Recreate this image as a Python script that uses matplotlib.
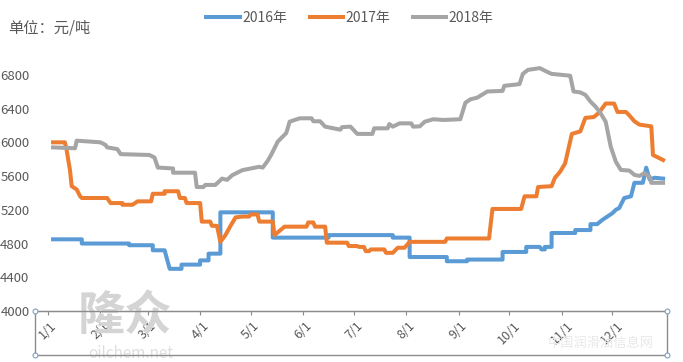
import matplotlib
matplotlib.use("Agg")
from matplotlib import pyplot as plt
from matplotlib.patches import Rectangle
from matplotlib.lines import Line2D

plt.rcParams['font.family'] = ['Noto Sans CJK SC', 'DejaVu Sans']

# day of year (0 = 1/1) and price, yuan/ton
d2016 = [3, 20, 20, 48, 48, 62, 62, 69, 72, 79, 79, 90, 90, 95, 95, 102, 102, 133, 133, 166, 166,
         204, 204, 214, 214, 236, 236, 248, 248, 269, 269, 283, 283, 291, 292, 294, 294, 298, 298,
         312, 312, 321, 321, 325, 328, 331, 334, 336, 338, 341, 345, 347, 352, 354, 356, 359, 364]
v2016 = [4850, 4850, 4800, 4800, 4780, 4780, 4720, 4720, 4500, 4500, 4550, 4550, 4600, 4600, 4680,
         4680, 5170, 5170, 4870, 4870, 4900, 4900, 4870, 4870, 4640, 4640, 4590, 4590, 4610, 4610,
         4700, 4700, 4760, 4760, 4730, 4730, 4760, 4760, 4925, 4925, 4960, 4960, 5030, 5030, 5080,
         5120, 5160, 5200, 5220, 5340, 5360, 5520, 5520, 5700, 5560, 5580, 5570]

d2017 = [3, 10, 11, 13, 14, 17, 19, 20, 35, 37, 44, 44, 50, 53, 61, 62, 69, 69, 77, 78, 81, 82, 90,
         91, 96, 97, 100, 102, 105, 108, 111, 115, 119, 120, 124, 125, 133, 134, 137, 140, 153, 154,
         157, 158, 164, 165, 177, 178, 183, 184, 187, 188, 190, 191, 199, 200, 204, 207, 211, 214,
         235, 236, 261, 263, 280, 282, 289, 290, 298, 300, 303, 306, 310, 315, 318, 323, 326, 330,
         335, 337, 342, 344, 347, 350, 357, 358, 362, 364]
v2017 = [6000, 6000, 5910, 5670, 5480, 5440, 5360, 5340, 5340, 5280, 5280, 5260, 5260, 5300, 5300,
         5390, 5390, 5420, 5420, 5340, 5340, 5280, 5280, 5060, 5060, 5010, 5010, 4820, 4900, 5010,
         5110, 5120, 5120, 5145, 5145, 5060, 5060, 4900, 4950, 5000, 5000, 5050, 5050, 5000, 5000,
         4810, 4810, 4770, 4770, 4760, 4760, 4710, 4710, 4730, 4730, 4690, 4690, 4750, 4750, 4820,
         4820, 4860, 4860, 5210, 5210, 5360, 5360, 5470, 5480, 5580, 5650, 5750, 6100, 6130, 6290,
         6300, 6350, 6460, 6460, 6360, 6360, 6320, 6250, 6210, 6190, 5850, 5810, 5790]

d2018 = [3, 16, 17, 31, 34, 35, 41, 43, 60, 63, 65, 66, 74, 74, 87, 88, 92, 93, 99, 103, 106, 109,
         115, 125, 127, 130, 132, 136, 141, 143, 149, 156, 157, 161, 164, 173, 174, 179, 183, 192,
         193, 201, 202, 204, 208, 215, 216, 220, 223, 228, 234, 244, 247, 250, 254, 260, 269, 270,
         279, 281, 284, 291, 295, 298, 309, 311, 315, 318, 321, 324, 327, 330, 331, 333, 336, 339,
         344, 347, 350, 353, 356, 357, 364]
v2018 = [5940, 5930, 6020, 6000, 5970, 5940, 5920, 5860, 5850, 5820, 5700, 5700, 5690, 5640, 5640,
         5470, 5470, 5495, 5495, 5570, 5555, 5610, 5670, 5710, 5700, 5780, 5850, 6010, 6110, 6245,
         6285, 6285, 6250, 6250, 6186, 6150, 6180, 6186, 6100, 6100, 6166, 6166, 6217, 6186, 6225,
         6225, 6186, 6190, 6245, 6274, 6265, 6274, 6470, 6510, 6530, 6603, 6610, 6670, 6690, 6812,
         6859, 6880, 6840, 6812, 6790, 6603, 6592, 6563, 6483, 6424, 6345, 6245, 6147, 5949, 5771,
         5673, 5665, 5614, 5602, 5634, 5594, 5520, 5520]

month_days = [0, 31, 59, 90, 120, 151, 181, 212, 243, 273, 304, 334]
month_labels = ["1/1", "2/1", "3/1", "4/1", "5/1", "6/1", "7/1", "8/1", "9/1", "10/1", "11/1", "12/1"]
y_ticks = [4000, 4400, 4800, 5200, 5600, 6000, 6400, 6800]

W, H = 683, 362
fig = plt.figure(figsize=(W / 100, H / 100), dpi=100)

# faint watermarks (behind everything)
fig.text(78 / W, 1 - 316 / H, "隆众", fontsize=34, fontweight="bold", color="#d4d4d4",
         va="center", zorder=0)
fig.text(88 / W, 1 - 353 / H, "oilchem.net", fontsize=11, color="#dedede", va="center", zorder=0)
fig.text(548 / W, 1 - 343 / H, "中国润滑油信息网", fontsize=9.5, color="#e8e8e8", va="center", zorder=0)

ax = fig.add_axes([35 / W, 1 - 311 / H, 632 / W, 253 / H])
ax.patch.set_alpha(0)

blue, orange, grey = "#5B9BD5", "#ED7D31", "#A5A5A5"
lw = 2.9
ax.plot(d2016, v2016, color=blue, lw=lw, solid_joinstyle="round", label="2016年")
ax.plot(d2017, v2017, color=orange, lw=lw, solid_joinstyle="round", label="2017年")
ax.plot(d2018, v2018, color=grey, lw=lw, solid_joinstyle="round", label="2018年")

ax.set_xlim(-7.7, 366.3)
ax.set_ylim(4000, 7000)
ax.set_yticks(y_ticks)
ax.set_xticks(month_days)
ax.set_xticklabels(month_labels, rotation=45, ha="center", va="top")
for s in ["top", "right", "left"]:
    ax.spines[s].set_visible(False)
ax.spines["bottom"].set_color("#8c8c8c")
ax.tick_params(axis="y", length=0, pad=4, labelsize=9.5, labelcolor="#595959")
ax.tick_params(axis="x", length=3, color="#8c8c8c", pad=3, labelsize=9, labelcolor="#595959")

# label box under the axis, like the selected category axis in the original
box = Rectangle((35 / W, 1 - 355 / H), 632 / W, 44 / H, transform=fig.transFigure,
                fill=False, edgecolor="#8c8c8c", lw=1)
fig.add_artist(box)
for px, py in [(35, 311), (35, 355), (667, 311), (667, 355)]:
    fig.add_artist(Line2D([px / W], [1 - py / H], marker="o", ms=3.5, mfc="white",
                          mec="#7f9fbf", mew=0.8, transform=fig.transFigure))

fig.text(8 / W, 1 - 28 / H, "单位：元/吨", fontsize=11, color="#595959", va="center")
fig.legend(loc="center", bbox_to_anchor=(350 / W, 1 - 18 / H), ncol=3, frameon=False,
           fontsize=10, handlelength=2.4, handletextpad=0.2, columnspacing=1.6,
           labelcolor="#595959")

fig.savefig("out.png", dpi=100)
